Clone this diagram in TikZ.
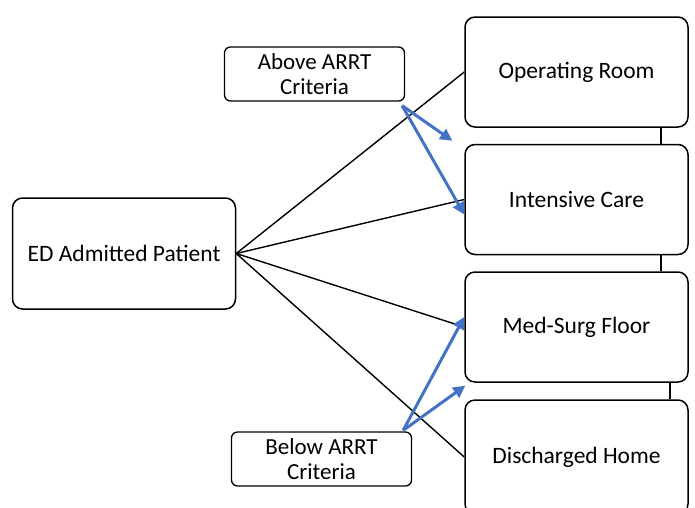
\documentclass[tikz,border=0pt]{standalone}
\usepackage{fontspec}
\setmainfont{Carlito}
\usetikzlibrary{arrows.meta}
\definecolor{arrblue}{RGB}{68,114,196}
\newcommand*{\bigw}{223pt}
\newcommand*{\bigh}{110pt}
\newcommand*{\smw }{180pt}
\newcommand*{\smh }{54pt}

\begin{document}
\begin{tikzpicture}[x=1pt, y=-1pt, font=\fontsize{23.5}{28}\selectfont,
    bigbox/.style={draw, line width=1.5pt, rounded corners=10pt, minimum width=\bigw, minimum height=\bigh, align=center, inner sep=0pt},
    critbox/.style={draw, line width=1.3pt, rounded corners=6pt, minimum width=\smw, minimum height=\smh, align=center, inner sep=0pt, font=\fontsize{23}{25}\selectfont},
    link/.style={line width=1.4pt},
    blue arrow/.style={draw=arrblue, line width=3pt, -{Triangle[length=12pt,width=12pt]}}]
    \useasboundingbox (0,0) rectangle (695,507);
    % left and right boxes
    \node [bigbox, minimum height=111pt] (ed) at (124,253.5) {ED Admitted Patient};
    \node [bigbox] (or) at (576.5, 72) {Operating Room};
    \node [bigbox] (ic) at (576.5,199.5) {Intensive Care};
    \node [bigbox] (ms) at (576.5,327) {Med-Surg Floor};
    \node [bigbox, minimum height=114pt] (dh) at (576.5,457) {Discharged Home};
    % criteria boxes
    \node [critbox] (above) at (314.5, 74) {Above ARRT\\Criteria};
    \node [critbox] (below) at (321.5,459) {Below ARRT\\Criteria};
    % lines from ED
    \draw [link] (ed.east) -- (or.west);
    \draw [link] (ed.east) -- (ic.west);
    \draw [link] (ed.east) -- (ms.west);
    \draw [link] (ed.east) -- (dh.west);
    % short links on the right
    \draw [line width=1.8pt] ([xshift=-28pt]or.south east) -- ([xshift=-28pt]ic.north east);
    \draw [line width=1.8pt] ([xshift=-28pt]ic.south east) -- ([xshift=-28pt]ms.north east);
    \draw [line width=1.8pt] ([xshift=-19pt]ms.south east) -- ([xshift=-19pt]dh.north east);
    % blue arrows
    \coordinate (astart) at ([shift={(-3,4)}]above.south east);
    \coordinate (bstart) at ([shift={(-9,-1)}]below.north east);
    \coordinate (icnw) at ([shift={(-12,-3)}]ic.north west);
    \coordinate (icw) at ([yshift=-15]ic.west);
    \coordinate (msw) at ([yshift=10]ms.west);
    \coordinate (mssw) at ([shift={(1,3)}]ms.south west);
    \draw [blue arrow] (astart) -- (icnw);
    \draw [blue arrow] (astart) -- (icw);
    \draw [blue arrow] (bstart) -- (msw);
    \draw [blue arrow] (bstart) -- (mssw);
\end{tikzpicture}
\end{document}
